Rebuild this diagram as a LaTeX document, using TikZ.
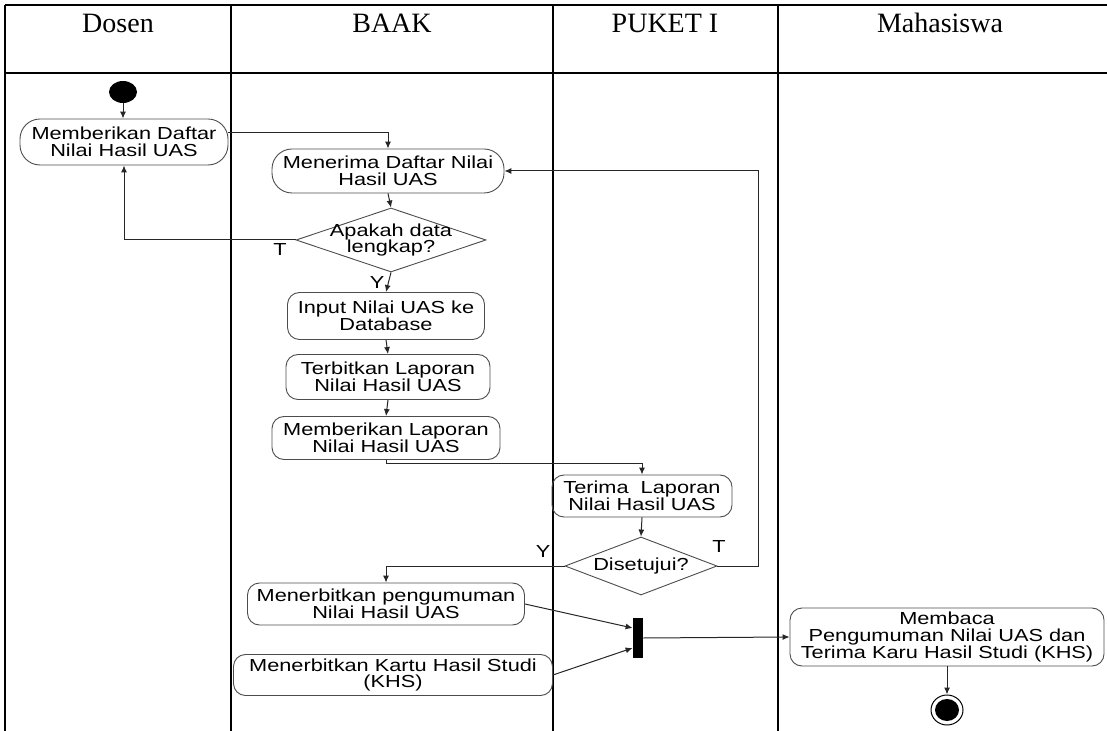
\documentclass[tikz,border=0pt]{standalone}
\usepackage{fontspec}
\setmainfont{Liberation Serif}
\newfontfamily\boxfont[FakeStretch=1.25]{Liberation Sans}
\usetikzlibrary{arrows.meta,shapes.geometric,calc}
\begin{document}
\begin{tikzpicture}[x=0.5pt,y=-0.5pt,
  lane/.style={line width=1.3pt,black},
  hdr/.style={font=\fontsize{14}{16}\selectfont, anchor=base, inner sep=0pt},
  txt/.style={font=\boxfont\fontsize{8.7}{8.3}\selectfont},
  act/.style={txt, draw=black!70, line width=0.45pt, rounded corners=6pt, align=center, inner sep=0pt},
  stad/.style={act, rounded corners=10pt},
  dec/.style={diamond, draw=black!70, line width=0.45pt, inner sep=0pt},
  flow/.style={draw=black!85, line width=0.5pt, -{Latex[length=3.5pt,width=3pt]}},
  lbl/.style={txt, inner sep=0pt}
]
\useasboundingbox (0,0) rectangle (1107,731);
% swimlanes
\draw[lane] (5,5) -- (1107,5);
\draw[lane] (5,73) -- (1107,73);
\foreach \x in {5,231,553,778} \draw[lane] (\x,5) -- (\x,731);
\node[hdr] (h1) at (118,33) {Dosen};
\node[hdr] (h2) at (392,33) {BAAK};
\node[hdr] (h3) at (665,33) {PUKET I};
\node[hdr] (h4) at (940,33) {Mahasiswa};
% nodes
\node[ellipse, fill=black, minimum width=14pt, minimum height=11pt, inner sep=0pt] (start) at (123,92) {};
\node[stad, minimum width=104pt, minimum height=23pt] (b1) at (124,142) {Memberikan Daftar\\Nilai Hasil UAS};
\node[stad, minimum width=116pt, minimum height=22pt] (b2) at (388,171) {Menerima Daftar Nilai\\Hasil UAS};
\node[dec, minimum width=95pt, minimum height=32pt, label={[lbl,align=center]center:Apakah data\\lengkap?}] (d1) at (391,240) {};
\node[act, minimum width=98.5pt, minimum height=23.5pt] (b3) at (386,316) {Input Nilai UAS ke\\Database};
\node[act, minimum width=102pt, minimum height=22.5pt] (b4) at (388,377) {Terbitkan Laporan\\Nilai Hasil UAS};
\node[act, minimum width=114pt, minimum height=21.5pt] (b5) at (386,438) {Memberikan Laporan\\Nilai Hasil UAS};
\node[act, minimum width=90pt, minimum height=21pt] (b6) at (642,496) {Terima\ \ Laporan\\Nilai Hasil UAS};
\node[dec, minimum width=76pt, minimum height=29pt, label={[lbl]center:Disetujui?}] (d2) at (641,566) {};
\node[act, minimum width=138.5pt, minimum height=21pt] (b7) at (386,604) {Menerbitkan pengumuman\\Nilai Hasil UAS};
\node[act, minimum width=159.5pt, minimum height=20.5pt] (b8) at (393,675) {Menerbitkan Kartu Hasil Studi\\(KHS)};
\node[fill=black, minimum width=5pt, minimum height=20pt, inner sep=0pt] (bar) at (638,638) {};
\node[act, minimum width=157pt, minimum height=29pt] (b9) at (947,637) {Membaca\\Pengumuman Nilai UAS dan\\Terima Karu Hasil Studi (KHS)};
\node[ellipse, draw=black, line width=0.5pt, minimum width=16pt, minimum height=15pt, inner sep=0pt] (end) at (947,710) {};
\node[ellipse, fill=black, minimum width=12pt, minimum height=11pt, inner sep=0pt] (endin) at (end.center) {};
% labels
\node[lbl] (lt1) at (280,250) {T};
\node[lbl] (ly1) at (377,283) {Y};
\node[lbl] (ly2) at (543,552) {Y};
\node[lbl] (lt2) at (719,547) {T};
% connectors
\draw[flow] (start.south) -- (b1.north -| start.south);
\draw[flow] ($(b1.east)+(0,-9)$) -| (b2.north);
\draw[flow] (b2.south) -- (d1.north);
\draw[flow] (d1.west) -| (b1.south);
\draw[flow] (d1.south) -- (b3.north);
\draw[flow] (b3.south) -- (b4.north);
\draw[flow] (b4.south) -- (b5.north);
\draw[flow] (b5.south) -- ++(0,4) -| (b6.north);
\draw[flow] (b6.south) -- (d2.north);
\draw[flow] (d2.east) -- ++(41,0) |- (b2.east);
\draw[flow] (d2.west) -| (b7.north);
\draw[flow] (b7.east) -- ($(bar.west)+(0,-10)$);
\draw[flow] (b8.east) -- ($(bar.west)+(0,10)$);
\draw[flow] (bar.east) -- (b9.west);
\draw[flow] (b9.south) -- (end.north);
\end{tikzpicture}
\end{document}
